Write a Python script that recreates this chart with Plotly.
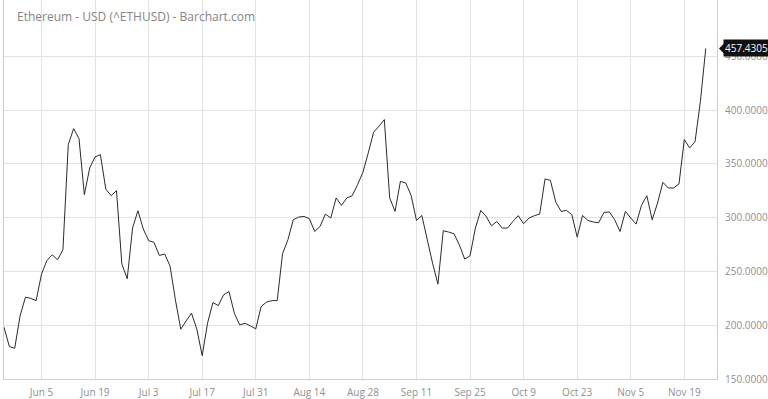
import pandas as pd
import plotly.graph_objects as go

# Weekday closes of Ethereum (USD), 2017-05-25 .. 2017-11-24
prices = [
    198.2, 180.1, 178.6, 208.7, 226.1, 225.0, 222.9, 247.5, 260.2, 265.5,
    260.9, 270.2, 368.0, 382.9, 373.6, 321.4, 346.3, 356.6, 358.7, 326.7,
    320.5, 325.2, 256.9, 243.2, 290.4, 306.5, 289.5, 278.7, 277.0, 264.9,
    266.2, 255.0, 223.6, 196.3, 204.0, 211.2, 196.3, 171.7, 201.9, 221.1,
    218.3, 228.3, 231.3, 211.2, 200.3, 201.9, 199.4, 196.6, 217.4, 221.5,
    222.9, 222.9, 266.5, 279.5, 298.1, 300.6, 301.2, 299.1, 287.2, 291.9,
    303.4, 299.7, 318.4, 311.5, 318.4, 320.5, 330.7, 342.2, 360.3, 379.5,
    385.1, 391.3, 318.4, 305.9, 333.8, 332.3, 320.8, 297.5, 302.1, 279.5,
    257.8, 238.2, 287.9, 286.7, 285.1, 274.8, 261.5, 264.6, 290.4, 306.8,
    301.2, 292.5, 296.5, 290.4, 290.4, 296.5, 301.9, 294.4, 299.7, 301.9,
    303.4, 336.1, 334.7, 314.6, 305.9, 306.8, 302.8, 282.0, 302.1, 297.5,
    296.0, 295.3, 304.9, 305.4, 298.1, 287.2, 305.9, 299.7, 294.1, 311.5,
    320.5, 298.1, 313.7, 332.9, 327.7, 327.7, 331.4, 372.7, 364.9, 370.8,
    408.0, 457.4305,
]
dates = [d.strftime("%Y-%m-%d") for d in pd.bdate_range("2017-05-25", periods=len(prices))]

tick_dates = ["2017-06-05", "2017-06-19", "2017-07-03", "2017-07-17", "2017-07-31",
              "2017-08-14", "2017-08-28", "2017-09-11", "2017-09-25", "2017-10-09",
              "2017-10-23", "2017-11-06", "2017-11-20"]
tick_labels = ["Jun 5", "Jun 19", "Jul 3", "Jul 17", "Jul 31", "Aug 14", "Aug 28",
               "Sep 11", "Sep 25", "Oct 9", "Oct 23", "Nov 5", "Nov 19"]
y_ticks = [150, 200, 250, 300, 350, 400, 450]
title = "Ethereum - USD (^ETHUSD) - Barchart.com"
last_price = prices[-1]

fig = go.Figure()
fig.add_trace(go.Scatter(x=dates, y=prices, mode="lines",
                         line=dict(color="#2b2b2b", width=1), hoverinfo="x+y"))

grid = "#e3e3e3"
fig.update_layout(
    width=768, height=399,
    margin=dict(l=4, r=45, t=0, b=20),
    paper_bgcolor="white", plot_bgcolor="white",
    showlegend=False,
    font=dict(family="Open Sans", color="#8f8f8f", size=10),
    xaxis=dict(type="category", range=[0, 133.1], tickmode="array",
               tickvals=tick_dates, ticktext=tick_labels,
               showgrid=True, gridcolor=grid, gridwidth=1,
               showline=True, linecolor="#cfcfcf", linewidth=1,
               ticks="", tickfont=dict(size=10, color="#8f8f8f"),
               ticklabelstandoff=4, zeroline=False),
    yaxis=dict(side="right", range=[150, 502.5], tickmode="array",
               tickvals=y_ticks, tickformat=".4f",
               showgrid=True, gridcolor=grid, gridwidth=1,
               showline=True, linecolor="#cfcfcf", linewidth=1, mirror=True,
               ticks="", tickfont=dict(size=10, color="#8f8f8f"),
               ticklabelstandoff=5, zeroline=False),
)

fig.add_annotation(xref="paper", yref="paper", x=0.0155, y=1 - 16 / 379,
                   xanchor="left", yanchor="middle", text=title, showarrow=False,
                   font=dict(family="Open Sans", size=12, color="#858585"))

fig.add_annotation(xref="paper", yref="y", x=1, y=last_price, xshift=6,
                   xanchor="left", yanchor="middle", text=f"{last_price:.4f}",
                   showarrow=False, bgcolor="#111111", borderpad=1,
                   font=dict(family="Open Sans", size=10, color="white"))
fig.add_shape(type="path", xref="paper", yref="y", xsizemode="pixel", ysizemode="pixel",
              xanchor=1, yanchor=last_price,
              path="M 2,0 L 7,5 L 7,-5 Z", fillcolor="#111111", line=dict(width=0))

fig.write_html("out.html")
